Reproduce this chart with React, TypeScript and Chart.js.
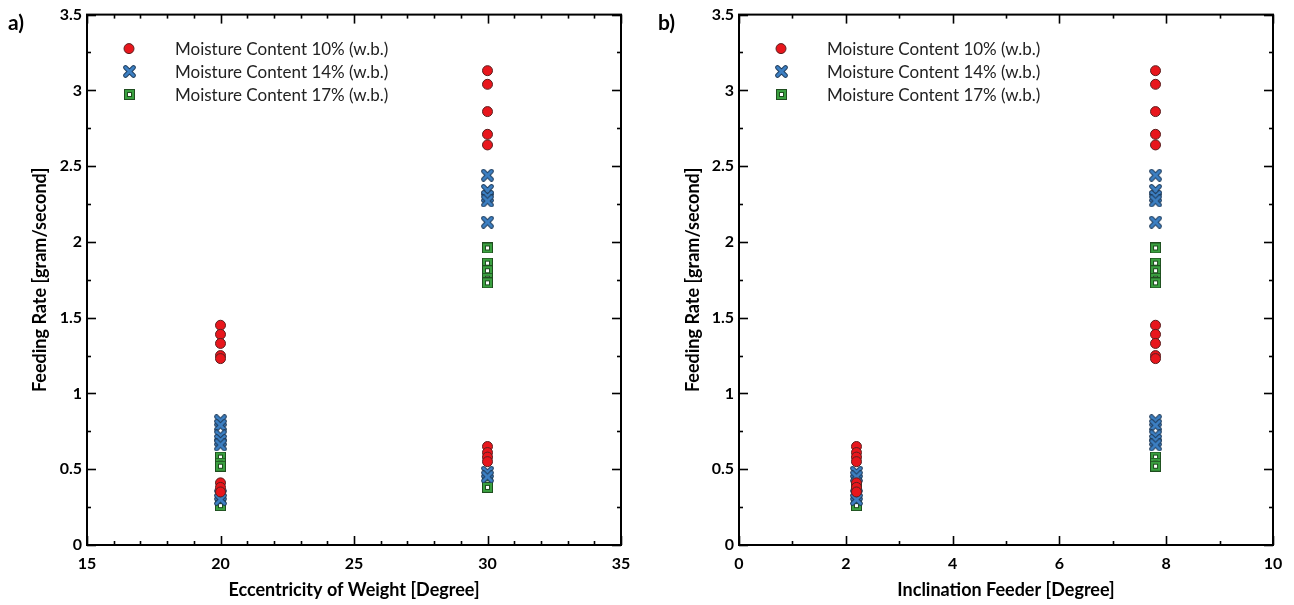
import React, { useEffect, useRef } from "react";
import { Chart, registerables } from "chart.js";

Chart.register(...registerables);

// ---------- data ----------
const seriesLabels = [
  "Moisture Content 10% (w.b.)",
  "Moisture Content 14% (w.b.)",
  "Moisture Content 17% (w.b.)",
];

const eccentricityLevels = [20, 30]; // Degree
const inclinationLevels = [2.2, 7.8]; // Degree

// feeding rate [gram/second] for each moisture content / eccentricity / inclination
const mc10_e20_i22 = [0.41, 0.38, 0.35];
const mc10_e20_i78 = [1.45, 1.39, 1.33, 1.25, 1.23];
const mc10_e30_i22 = [0.65, 0.61, 0.58, 0.55];
const mc10_e30_i78 = [3.13, 3.04, 2.86, 2.71, 2.64];

const mc14_e20_i22 = [0.33, 0.3];
const mc14_e20_i78 = [0.82, 0.79, 0.72, 0.69, 0.66];
const mc14_e30_i22 = [0.48, 0.45];
const mc14_e30_i78 = [2.44, 2.34, 2.3, 2.27, 2.13];

const mc17_e20_i22 = [0.29, 0.26];
const mc17_e20_i78 = [0.58, 0.54, 0.52];
const mc17_e30_i22 = [0.41, 0.38];
const mc17_e30_i78 = [1.96, 1.86, 1.81, 1.76, 1.73];

const groups = [
  [mc10_e20_i22, mc10_e20_i78, mc10_e30_i22, mc10_e30_i78],
  [mc14_e20_i22, mc14_e20_i78, mc14_e30_i22, mc14_e30_i78],
  [mc17_e20_i22, mc17_e20_i78, mc17_e30_i22, mc17_e30_i78],
];

// ---------- markers ----------
function makeCross(): HTMLCanvasElement {
  const c = document.createElement("canvas");
  c.width = 13;
  c.height = 13;
  const g = c.getContext("2d")!;
  g.lineCap = "round";
  const draw = (w: number, col: string) => {
    g.strokeStyle = col;
    g.lineWidth = w;
    g.beginPath();
    g.moveTo(2.5, 2.5);
    g.lineTo(10.5, 10.5);
    g.moveTo(10.5, 2.5);
    g.lineTo(2.5, 10.5);
    g.stroke();
  };
  draw(4.6, "#1f3c5c");
  draw(2.8, "#3c7fc2");
  return c;
}

function makeSquare(): HTMLCanvasElement {
  const c = document.createElement("canvas");
  c.width = 11;
  c.height = 11;
  const g = c.getContext("2d")!;
  g.fillStyle = "#1f4d1f";
  g.fillRect(0, 0, 11, 11);
  g.fillStyle = "#3aa040";
  g.fillRect(1, 1, 9, 9);
  g.fillStyle = "#1f4d1f";
  g.fillRect(3, 3, 5, 5);
  g.fillStyle = "#ffffff";
  g.fillRect(4, 4, 3, 3);
  return c;
}

type PanelCfg = {
  label: string;
  xTitle: string;
  xMin: number;
  xMax: number;
  xMajor: number;
  xMinor: number;
  levels: number[];
  levelIndex: (k: number) => number;
  yWidth: number;
  padRight: number;
  yTitleX: number;
  panelLabelX: number;
};

const Y_MIN = 0;
const Y_MAX = 3.5;
const Y_MAJOR = 0.5;
const Y_MINOR = 0.25;

const decorPlugin = {
  id: "decor",
  afterDraw(chart: any) {
    const cfg: PanelCfg = chart.options.plugins.decor.cfg;
    const markers = chart.options.plugins.decor.markers;
    const { ctx, chartArea: a } = chart;
    const xs = chart.scales.x;
    const ys = chart.scales.y;
    ctx.save();
    ctx.strokeStyle = "#000";
    ctx.lineWidth = 1.6;
    const seg = (x1: number, y1: number, x2: number, y2: number) => {
      ctx.beginPath();
      ctx.moveTo(x1, y1);
      ctx.lineTo(x2, y2);
      ctx.stroke();
    };
    const n = Math.round((cfg.xMax - cfg.xMin) / cfg.xMinor);
    const per = Math.round(cfg.xMajor / cfg.xMinor);
    for (let i = 0; i <= n; i++) {
      const v = cfg.xMin + i * cfg.xMinor;
      const len = i % per === 0 ? 9 : 4;
      const px = Math.round(xs.getPixelForValue(v)) + 0.5;
      seg(px, a.bottom, px, a.bottom - len);
      seg(px, a.top, px, a.top + len);
    }
    const ny = Math.round((Y_MAX - Y_MIN) / Y_MINOR);
    const pery = Math.round(Y_MAJOR / Y_MINOR);
    for (let i = 0; i <= ny; i++) {
      const v = Y_MIN + i * Y_MINOR;
      const len = i % pery === 0 ? 9 : 4;
      const py = Math.round(ys.getPixelForValue(v)) + 0.5;
      seg(a.left, py, a.left + len, py);
      seg(a.right, py, a.right - len, py);
    }
    ctx.lineWidth = 2;
    ctx.strokeRect(a.left, a.top, a.right - a.left, a.bottom - a.top);

    // legend
    ctx.font = "17px Lato";
    ctx.textBaseline = "middle";
    ctx.textAlign = "left";
    chart.data.datasets.forEach((ds: any, i: number) => {
      const my = a.top + 34 + i * 23;
      const mx = a.left + 42;
      if (i === 0) {
        ctx.beginPath();
        ctx.arc(mx, my, 5, 0, Math.PI * 2);
        ctx.fillStyle = ds.backgroundColor;
        ctx.fill();
        ctx.strokeStyle = ds.borderColor;
        ctx.lineWidth = 1;
        ctx.stroke();
      } else {
        const img = markers[i - 1];
        ctx.drawImage(img, Math.round(mx - img.width / 2), Math.round(my - img.height / 2));
      }
      ctx.fillStyle = "#222";
      ctx.fillText(ds.label, a.left + 88, my + 1);
    });

    // titles
    ctx.fillStyle = "#000";
    ctx.font = "bold 18px Lato";
    ctx.textAlign = "center";
    ctx.fillText(cfg.xTitle, (a.left + a.right) / 2, 590);
    ctx.save();
    ctx.translate(cfg.yTitleX, (a.top + a.bottom) / 2);
    ctx.rotate(-Math.PI / 2);
    ctx.fillText("Feeding Rate [gram/second]", 0, 0);
    ctx.restore();
    ctx.font = "bold 21px Lato";
    ctx.textAlign = "left";
    ctx.fillText(cfg.label, cfg.panelLabelX, 23);
    ctx.restore();
  },
};

function Panel({ cfg, left }: { cfg: PanelCfg; left: number }) {
  const ref = useRef<HTMLCanvasElement>(null);
  useEffect(() => {
    const cross = makeCross();
    const square = makeSquare();
    const build = (k: number) =>
      groups[k].flatMap((arr, gi) =>
        arr.map((y) => ({ x: cfg.levels[cfg.levelIndex(gi)], y }))
      );
    const chart = new Chart(ref.current!, {
      type: "scatter",
      data: {
        datasets: [
          {
            label: seriesLabels[0],
            data: build(0),
            pointStyle: "circle",
            pointRadius: 5,
            backgroundColor: "#e8161c",
            borderColor: "#5a2020",
            borderWidth: 1,
          },
          {
            label: seriesLabels[1],
            data: build(1),
            pointStyle: cross,
            pointRadius: 6,
            backgroundColor: "#3c7fc2",
            borderColor: "#1f3c5c",
          },
          {
            label: seriesLabels[2],
            data: build(2),
            pointStyle: square,
            pointRadius: 6,
            backgroundColor: "#3aa040",
            borderColor: "#1f4d1f",
          },
        ],
      },
      options: {
        animation: false,
        responsive: false,
        events: [],
        layout: { padding: { left: 0, right: cfg.padRight, top: 13, bottom: 0 } },
        plugins: {
          legend: { display: false },
          tooltip: { enabled: false },
          decor: { cfg, markers: [cross, square] },
        } as any,
        scales: {
          x: {
            type: "linear",
            min: cfg.xMin,
            max: cfg.xMax,
            grid: { display: false, drawTicks: false },
            border: { display: false },
            ticks: {
              stepSize: cfg.xMajor,
              autoSkip: false,
              maxRotation: 0,
              padding: 9,
              color: "#000",
              font: { family: "Lato", weight: "bold", size: 16 },
            },
            afterFit: (s: any) => {
              s.height = 60;
            },
          },
          y: {
            type: "linear",
            min: Y_MIN,
            max: Y_MAX,
            grid: { display: false, drawTicks: false },
            border: { display: false },
            ticks: {
              stepSize: Y_MAJOR,
              padding: 5,
              color: "#000",
              font: { family: "Lato", weight: "bold", size: 16 },
              callback: (v: any) => String(Math.round(Number(v) * 100) / 100),
            },
            afterFit: (s: any) => {
              s.width = cfg.yWidth;
            },
          },
        },
      },
      plugins: [decorPlugin],
    });
    return () => chart.destroy();
  }, []);
  return (
    <canvas
      ref={ref}
      width={647}
      height={605}
      style={{ position: "absolute", left, top: 0, width: 647, height: 605 }}
    />
  );
}

const panelA: PanelCfg = {
  label: "a)",
  xTitle: "Eccentricity of Weight [Degree]",
  xMin: 15,
  xMax: 35,
  xMajor: 5,
  xMinor: 1,
  levels: eccentricityLevels,
  levelIndex: (gi) => (gi < 2 ? 0 : 1),
  yWidth: 87,
  padRight: 26,
  yTitleX: 40,
  panelLabelX: 8,
};

const panelB: PanelCfg = {
  label: "b)",
  xTitle: "Inclination Feeder [Degree]",
  xMin: 0,
  xMax: 10,
  xMajor: 2,
  xMinor: 1,
  levels: inclinationLevels,
  levelIndex: (gi) => (gi % 2 === 0 ? 0 : 1),
  yWidth: 92,
  padRight: 21,
  yTitleX: 46,
  panelLabelX: 11,
};

export default function App() {
  return (
    <div
      style={{
        position: "relative",
        left: -8,
        top: -8,
        width: 1294,
        height: 605,
        background: "#fff",
      }}
    >
      <Panel cfg={panelA} left={0} />
      <Panel cfg={panelB} left={647} />
    </div>
  );
}
